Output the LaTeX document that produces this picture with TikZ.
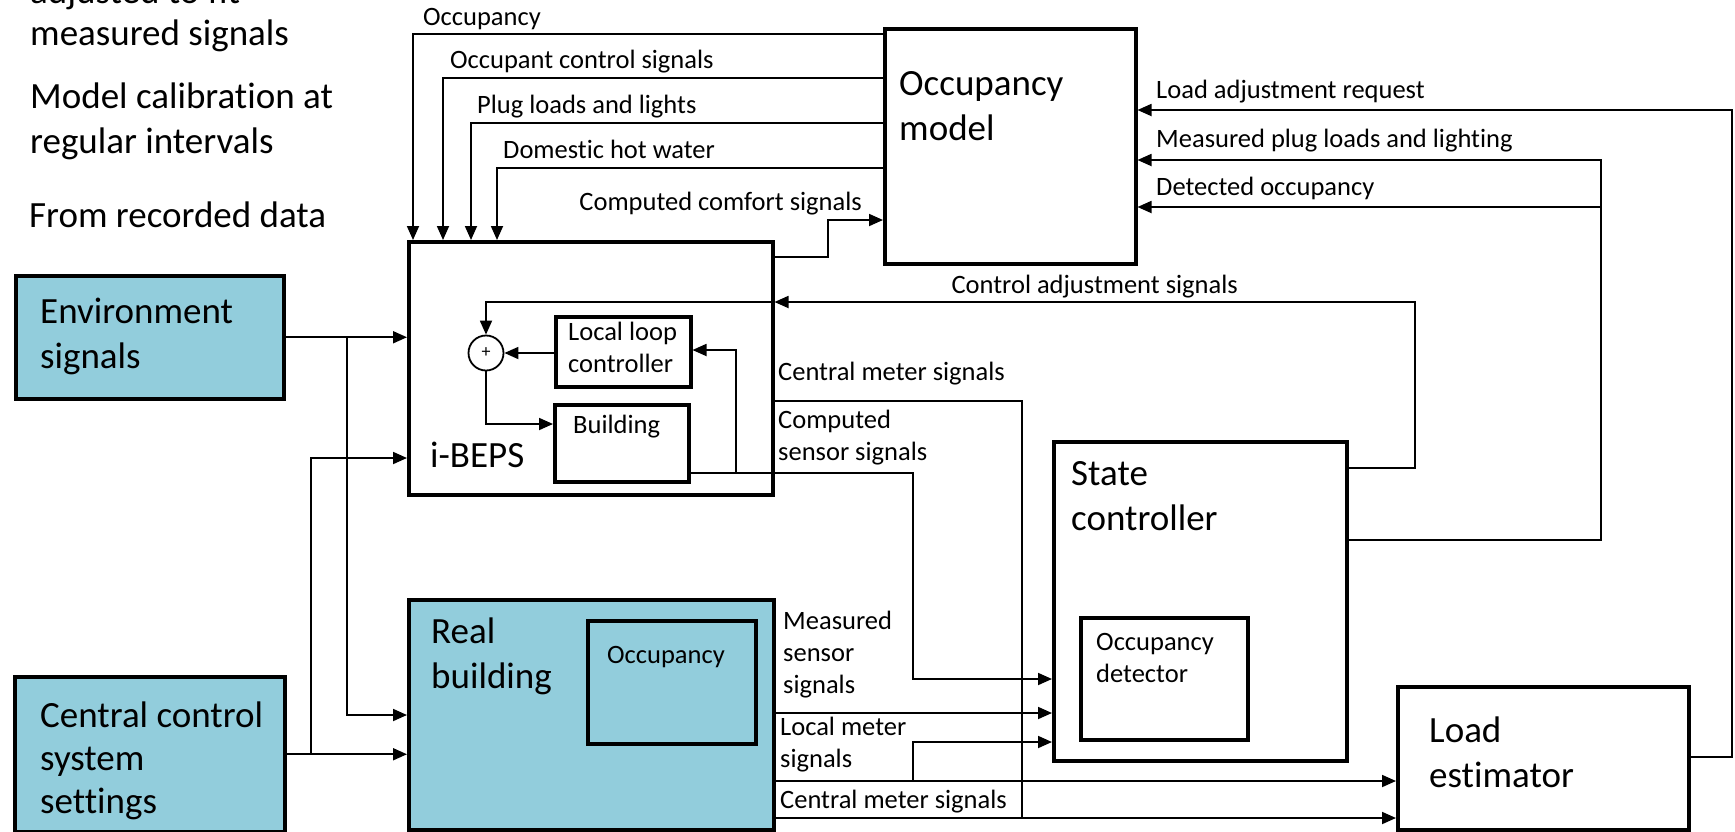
\documentclass[tikz,border=0pt]{standalone}
\usepackage{fontspec}
\setmainfont{Carlito}[Ligatures=NoCommon]
\usepackage{tikz}
\usetikzlibrary{arrows.meta}
\usetikzlibrary{positioning}

\definecolor{inblue}{RGB}{146,205,220}
\newcommand{\bigtxt}{\fontsize{37}{45}\selectfont}
\newcommand{\smltxt}{\fontsize{26.5}{32}\selectfont}

\begin{document}
\begin{tikzpicture}[x=1pt, y=-1pt,
    blk/.style={draw, line width=3.5pt, fill=white, anchor=north west, inner sep=0pt},
    ext/.style={blk, fill=inblue},
    big/.style={anchor=base west, inner sep=0pt, align=left, font=\bigtxt},
    sml/.style={anchor=base west, inner sep=0pt, align=left, font=\smltxt},
    sig/.style={line width=1.8pt, -{Triangle[length=14pt, width=12pt]}},
    wire/.style={line width=1.8pt}]
    \useasboundingbox (0,0) rectangle (1735,831);

    % notes on the left (base = last line)
    \node[big] (note1) at (30,3) {adjusted to fit};
    \node[big] (note2) at (30,45) {measured signals};
    \node[big] (note3) at (30,153) {Model calibration at\\regular intervals};
    \node[big] (note4) at (29,227) {From recorded data};

    % blocks
    \node[ext, minimum width=268pt, minimum height=123pt] (env) at (14,274) {};
    \node[ext, minimum width=270pt, minimum height=155pt] (ccs) at (13,675) {};
    \node[blk, minimum width=364pt, minimum height=253pt] (ibeps) at (407,240) {};
    \node[blk, minimum width=251pt, minimum height=235pt] (occm) at (883,27) {};
    \node[blk, minimum width=135pt, minimum height=70pt] (llc) at (554,315) {};
    \node[blk, minimum width=134pt, minimum height=77pt] (bldg) at (553,403) {};
    \node[draw, circle, line width=1.8pt, minimum size=35pt, inner sep=0pt,
          font=\fontsize{18}{20}\selectfont] (sum) at (486,353) {+};
    \node[ext, minimum width=365pt, minimum height=230pt] (real) at (407,598) {};
    \node[ext, minimum width=168pt, minimum height=123pt] (occ) at (586,619) {};
    \node[blk, minimum width=293pt, minimum height=319pt] (state) at (1052,440) {};
    \node[blk, minimum width=167pt, minimum height=122pt] (det) at (1079,616) {};
    \node[blk, minimum width=291pt, minimum height=143pt] (load) at (1396,685) {};

    % block texts
    \node[big] (envtxt) at (40,368) {Environment\\signals};
    \node[big, font=\fontsize{37}{43}\selectfont] (ccstxt) at (40,813) {Central control\\system\\settings};
    \node[big] (ibepstxt) at (430,467) {i-BEPS};
    \node[big] (occmtxt) at (899,140) {Occupancy\\model};
    \node[sml] (llctxt) at (568,372) {Local loop\\controller};
    \node[sml] (bldgtxt) at (573,433) {Building};
    \node[big] (realtxt) at (431,688) {Real\\building};
    \node[sml] (occtxt) at (607,663) {Occupancy};
    \node[big] (statetxt) at (1071,530) {State\\controller};
    \node[sml] (dettxt) at (1096,682) {Occupancy\\detector};
    \node[big] (loadtxt) at (1429,787) {Load\\estimator};

    % signal labels
    \node[sml] (l1) at (423,25) {Occupancy};
    \node[sml] (l2) at (450,68) {Occupant control signals};
    \node[sml] (l3) at (477,113) {Plug loads and lights};
    \node[sml] (l4) at (503,158) {Domestic hot water};
    \node[sml, anchor=base east] (l5) at (862,210) {Computed comfort signals};
    \node[sml] (l6) at (1156,98) {Load adjustment request};
    \node[sml] (l7) at (1156,147) {Measured plug loads and lighting};
    \node[sml] (l8) at (1156,195) {Detected occupancy};
    \node[sml, anchor=base east] (l9) at (1238,293) {Control adjustment signals};
    \node[sml] (l10) at (778,380) {Central meter signals};
    \node[sml] (l11) at (778,460) {Computed\\sensor signals};
    \node[sml] (l12) at (783,693) {Measured\\sensor\\signals};
    \node[sml] (l13) at (780,767) {Local meter\\signals};
    \node[sml] (l14) at (780,808) {Central meter signals};

    % occupancy model -> i-BEPS
    \draw[sig] (occm.west |- 0,34) -| (413,0 |- ibeps.north);
    \draw[sig] (occm.west |- 0,78) -| (443,0 |- ibeps.north);
    \draw[sig] (occm.west |- 0,123) -| (471,0 |- ibeps.north);
    \draw[sig] (occm.west |- 0,168) -| (497,0 |- ibeps.north);
    \draw[sig] (ibeps.east |- 0,257) -| (828,220) -- (occm.west |- 0,220);

    % inputs
    \draw[sig] (env.east) -- (ibeps.west |- env.east);
    \draw[sig] (347,0 |- env.east) |- (real.west |- 0,715);
    \draw[sig] (ccs.east) -- (real.west |- ccs.east);
    \draw[sig] (311,0 |- ccs.east) |- (ibeps.west |- 0,458);

    % inside i-BEPS
    \draw[sig] (ibeps.east |- 0,302) -| (sum.north);
    \draw[sig] (llc.west |- sum.east) -- (sum.east);
    \draw[sig] (sum.south) |- (bldg.west |- 0,424);
    \draw[sig] (736,473) |- (llc.east |- 0,350);

    % i-BEPS outputs
    \draw[sig] (bldg.east |- 0,473) -| (913,679) -- (state.west |- 0,679);
    \draw[wire] (ibeps.east |- 0,401) -| (1022,818);

    % real building outputs
    \draw[sig] (real.east |- 0,713) -- (state.west |- 0,713);
    \draw[sig] (real.east |- 0,781) -- (load.west |- 0,781);
    \draw[sig] (913,781) |- (state.west |- 0,742);
    \draw[sig] (real.east |- 0,818) -- (load.west |- 0,818);

    % feedback paths
    \draw[sig] (state.east |- 0,468) -| (1415,302) -- (ibeps.east |- 0,302);
    \draw[sig] (state.east |- 0,540) -| (1601,160) -- (occm.east |- 0,160);
    \draw[sig] (1601,207) -- (occm.east |- 0,207);
    \draw[sig] (load.east |- 0,757) -| (1732,110) -- (occm.east |- 0,110);
\end{tikzpicture}
\end{document}
